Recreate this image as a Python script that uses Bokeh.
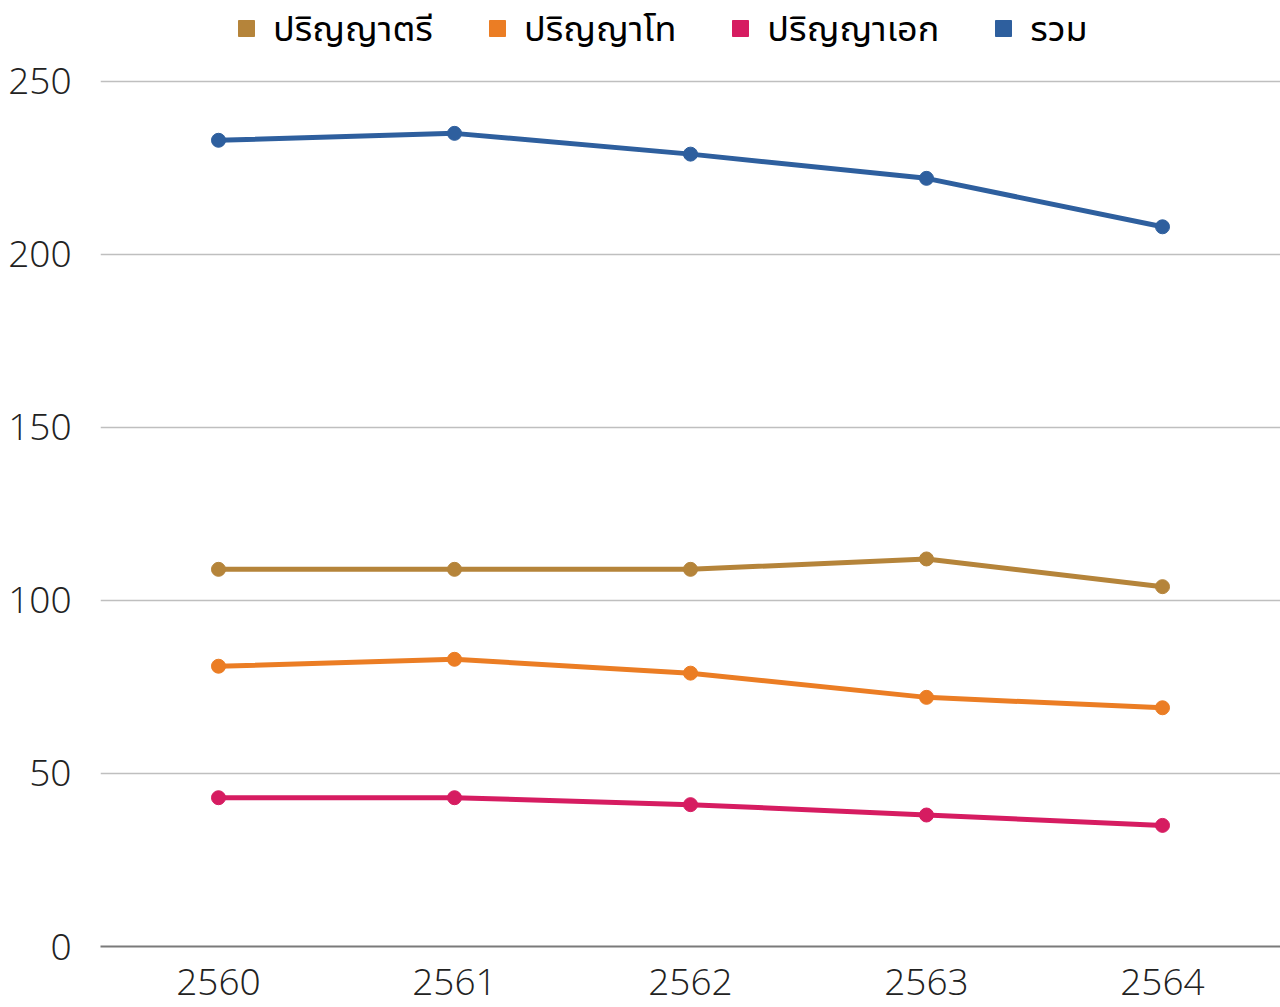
from bokeh.plotting import figure
from bokeh.models import Range1d, FixedTicker, Legend, LegendItem, ColumnDataSource
from bokeh.embed import file_html
from bokeh.resources import INLINE

years = [2560, 2561, 2562, 2563, 2564]
bachelor = [109, 109, 109, 112, 104]
master = [81, 83, 79, 72, 69]
doctor = [43, 43, 41, 38, 35]
total = [233, 235, 229, 222, 208]
series_names = ["ปริญญาตรี", "ปริญญาโท", "ปริญญาเอก", "รวม"]
series_values = [bachelor, master, doctor, total]
colors = ["#B5843A", "#EB7D24", "#D61C61", "#2E5F9E"]
y_ticks = [0, 50, 100, 150, 200, 250]

FONT = "'Open Sans Light', 'Open Sans'"
THAI_FONT = "'Noto Sans Thai UI', 'Noto Sans Thai', 'Open Sans'"

p = figure(width=1280, height=1007, output_backend="svg", toolbar_location=None,
           x_range=Range1d(2559.5, 2564.5), y_range=Range1d(0, 273.4),
           min_border_left=100, min_border_right=0, min_border_top=0, min_border_bottom=61)
p.outline_line_color = None
p.background_fill_color = "white"

items = []
for name, vals, c in zip(series_names, series_values, colors):
    src = ColumnDataSource(dict(x=years, y=vals))
    # small square hidden under the circles, used as the legend's square swatch
    sq = p.scatter("x", "y", source=src, marker="square", size=7, fill_color=c, line_color=c)
    p.line("x", "y", source=src, line_color=c, line_width=5)
    p.scatter("x", "y", source=src, marker="circle", size=14, fill_color=c, line_color=c)
    items.append(LegendItem(label=name, renderers=[sq]))

legend = Legend(items=items, orientation="horizontal", location=(126, 894),
                glyph_width=40, glyph_height=40, label_height=40, label_standoff=7, spacing=44,
                label_text_font=THAI_FONT, label_text_font_size="36px", label_text_color="#000000",
                padding=0, margin=0, border_line_color=None, background_fill_alpha=0)
p.add_layout(legend, "center")

p.xaxis.ticker = FixedTicker(ticks=years)
p.xaxis.axis_line_color = "#7a7a7a"
p.xaxis.axis_line_width = 2
p.xaxis.major_tick_line_color = None
p.xaxis.minor_tick_line_color = None
p.xaxis.major_tick_out = 0
p.xaxis.major_tick_in = 0
p.xaxis.major_label_standoff = 22
p.xaxis.major_label_text_font = FONT
p.xaxis.major_label_text_font_size = "37px"
p.xaxis.major_label_text_color = "#222222"

p.yaxis.ticker = FixedTicker(ticks=y_ticks)
p.yaxis.axis_line_color = None
p.yaxis.major_tick_line_color = None
p.yaxis.minor_tick_line_color = None
p.yaxis.major_tick_out = 0
p.yaxis.major_tick_in = 0
p.yaxis.major_label_standoff = 29
p.yaxis.major_label_text_font = FONT
p.yaxis.major_label_text_font_size = "37px"
p.yaxis.major_label_text_color = "#222222"

p.xgrid.grid_line_color = None
p.ygrid.ticker = FixedTicker(ticks=y_ticks)
p.ygrid.grid_line_color = "#BFBFBF"
p.ygrid.grid_line_width = 1.5

open("out.html", "w").write(file_html(p, INLINE))
